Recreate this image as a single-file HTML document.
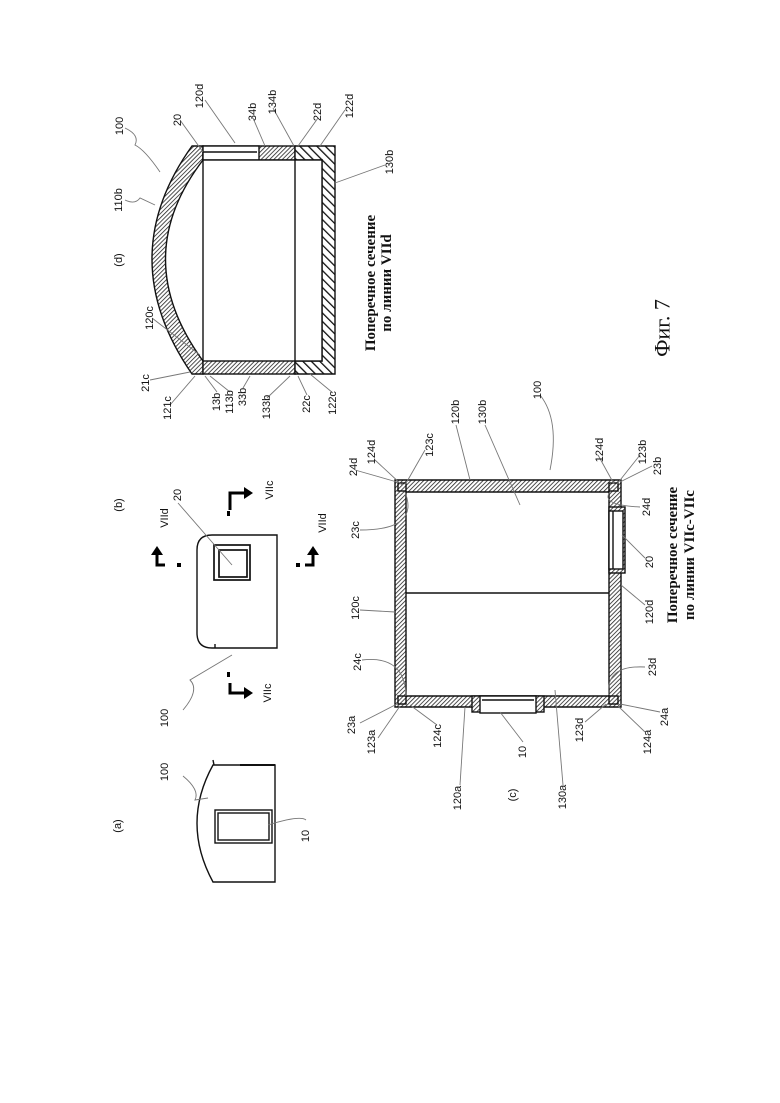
<!DOCTYPE html>
<html><head><meta charset="utf-8"><style>
html,body{margin:0;padding:0;background:#fff}
svg{display:block}
text{font-family:"Liberation Sans",sans-serif;font-size:11px;fill:#111}
.s{font-family:"Liberation Serif",serif;font-weight:bold;font-size:15px}
</style></head><body>
<svg width="780" height="1103" viewBox="0 0 780 1103" xmlns="http://www.w3.org/2000/svg">
<defs>
<pattern id="h" width="3" height="3" patternUnits="userSpaceOnUse" patternTransform="rotate(45)">
<rect width="3" height="3" fill="#fff"/><line x1="0" y1="0" x2="0" y2="3" stroke="#222" stroke-width="1.6"/></pattern>
<pattern id="h2" width="6" height="6" patternUnits="userSpaceOnUse" patternTransform="rotate(-45)">
<rect width="6" height="6" fill="#fff"/><line x1="0" y1="0" x2="0" y2="6" stroke="#111" stroke-width="2.6"/></pattern>
</defs>
<g stroke="#111" stroke-width="1.4" fill="none">
<!-- (d) -->
<path d="M192,146 Q112,258 192,374 L203,374 L203,361 Q128,258 203,160 L203,146 Z" fill="url(#h)"/>
<rect x="203" y="146" width="92" height="14" fill="url(#h)"/>
<rect x="203" y="360" width="92" height="14" fill="url(#h)"/>
<path d="M295,146 H335 V374 H295 V361 H322 V160 H295 Z" fill="url(#h2)"/>
<rect x="203" y="146" width="56" height="14" fill="#fff"/>
<line x1="203" y1="152" x2="257" y2="152"/>
<rect x="203" y="160" width="119" height="201" fill="#fff"/>
<line x1="295" y1="160" x2="295" y2="361"/>
<!-- (c) -->
<path d="M395,480 H621 V707 H395 Z M406,492 V696 H609 V492 Z" fill="url(#h)" fill-rule="evenodd"/>
<line x1="406" y1="593" x2="609" y2="593"/>
<rect x="472" y="696" width="72" height="16" fill="url(#h)"/>
<rect x="480" y="696" width="56" height="17" fill="#fff"/>
<line x1="482" y1="700" x2="534" y2="700"/>
<rect x="609" y="507" width="16" height="66" fill="url(#h)"/>
<rect x="609" y="511" width="14" height="58" fill="#fff"/>
<line x1="613" y1="511" x2="613" y2="569"/>
<rect x="398" y="483" width="8" height="8"/><rect x="609" y="483" width="9" height="8"/>
<rect x="398" y="696" width="8" height="8"/><rect x="609" y="696" width="9" height="8"/>
<!-- (b) -->
<path d="M277,535 V648 H212 Q197,648 197,633 V550 Q197,535 212,535 Z" fill="#fff"/>
<line x1="215" y1="648" x2="215" y2="644"/>
<rect x="214" y="545" width="36" height="35" stroke-width="1.7"/>
<rect x="219" y="550" width="28" height="27" stroke-width="1.7"/>
<!-- (a) -->
<path d="M213,765 Q181,823 213,882 H275 V765 Z" fill="#fff"/>
<line x1="213" y1="760" x2="214" y2="765"/><line x1="240" y1="765" x2="275" y2="765" stroke-width="2"/>
<rect x="215" y="810" width="57" height="33"/>
<rect x="218" y="813" width="51" height="27"/>
</g>
<!-- arrows (b) -->
<g stroke="#000" stroke-width="3" fill="none">
<path d="M165,565 H157 V553"/><path d="M230,510 V493 H245"/><path d="M230,683 V693 H245"/><path d="M305,565 H313 V553"/>
</g>
<g fill="#000">
<polygon points="151,555 163,555 157,546"/><polygon points="244,487 244,499 253,493"/>
<polygon points="244,687 244,699 253,693"/><polygon points="307,555 319,555 313,546"/>
<rect x="177" y="563" width="4" height="4"/><rect x="227" y="511" width="3" height="5"/>
<rect x="227" y="672" width="3" height="5"/><rect x="296" y="563" width="4" height="4"/>
</g>
<!-- leaders -->
<g stroke="#777" stroke-width="0.9" fill="none">
<path d="M125,128 Q140,135 135,145 Q145,150 160,172"/>
<path d="M125,200 Q135,205 140,198 L155,205"/>
<path d="M152,318 L200,355"/><path d="M150,380 L190,372"/><path d="M170,405 L195,376"/>
<path d="M217,392 L205,376"/><path d="M230,392 L210,376"/><path d="M243,388 L250,376"/>
<path d="M267,398 L290,376"/><path d="M307,395 L298,376"/><path d="M333,393 L310,374"/>
<path d="M180,120 L203,152"/><path d="M205,100 L235,143"/><path d="M253,118 L265,146"/>
<path d="M273,108 L294,146"/><path d="M318,118 L298,146"/><path d="M345,110 L320,146"/><path d="M385,165 L335,183"/>
<path d="M355,470 L397,482"/><path d="M375,460 L402,485"/><path d="M425,450 L405,485"/>
<path d="M456,425 L470,480"/><path d="M485,425 L520,505"/><path d="M540,395 Q560,420 550,470"/>
<path d="M598,455 L614,484"/><path d="M640,455 L617,484"/><path d="M652,466 L620,482"/><path d="M640,507 Q600,505 610,492"/>
<path d="M645,558 L622,535"/><path d="M645,605 L621,585"/><path d="M645,667 Q605,665 609,695"/>
<path d="M360,530 Q420,530 405,492"/><path d="M360,610 L395,612"/><path d="M362,660 Q405,655 406,696"/>
<path d="M360,723 L397,704"/><path d="M378,738 L400,706"/><path d="M437,725 L410,705"/>
<path d="M460,785 L465,707"/><path d="M523,742 L500,712"/><path d="M563,785 L555,690"/>
<path d="M585,722 L606,704"/><path d="M645,732 L618,706"/><path d="M660,712 L620,704"/>
<path d="M183,710 Q200,690 190,680 L232,655"/><path d="M178,503 L232,565"/>
<path d="M183,776 Q200,790 195,800 L208,798"/><path d="M306,820 Q300,815 268,825"/>
</g>
<!-- labels -->
<g text-anchor="middle" dominant-baseline="central">
<text transform="translate(120,126) rotate(-90)">100</text>
<text transform="translate(119,200) rotate(-90)">110b</text>
<text transform="translate(119,260) rotate(-90)" font-size="12">(d)</text>
<text transform="translate(150,318) rotate(-90)">120c</text>
<text transform="translate(146,383) rotate(-90)">21c</text>
<text transform="translate(168,408) rotate(-90)">121c</text>
<text transform="translate(217,402) rotate(-90)">13b</text>
<text transform="translate(230,402) rotate(-90)">113b</text>
<text transform="translate(243,397) rotate(-90)">33b</text>
<text transform="translate(267,407) rotate(-90)">133b</text>
<text transform="translate(307,404) rotate(-90)">22c</text>
<text transform="translate(333,403) rotate(-90)">122c</text>
<text transform="translate(178,120) rotate(-90)">20</text>
<text transform="translate(200,96) rotate(-90)">120d</text>
<text transform="translate(253,112) rotate(-90)">34b</text>
<text transform="translate(273,102) rotate(-90)">134b</text>
<text transform="translate(318,112) rotate(-90)">22d</text>
<text transform="translate(350,106) rotate(-90)">122d</text>
<text transform="translate(390,162) rotate(-90)">130b</text>
<text class="s" transform="translate(371,283) rotate(-90)">Поперечное сечение</text>
<text class="s" transform="translate(387,283) rotate(-90)">по линии VIId</text>
<text transform="translate(662,328) rotate(-90)" style="font-family:'Liberation Serif',serif;font-size:22px">Фиг. 7</text>

<text transform="translate(119,505) rotate(-90)" font-size="12">(b)</text>
<text transform="translate(165,518) rotate(-90)" font-size="12">VIId</text>
<text transform="translate(178,495) rotate(-90)">20</text>
<text transform="translate(270,490) rotate(-90)" font-size="12">VIIc</text>
<text transform="translate(323,523) rotate(-90)" font-size="12">VIId</text>
<text transform="translate(268,693) rotate(-90)" font-size="12">VIIc</text>
<text transform="translate(165,718) rotate(-90)">100</text>
<text transform="translate(165,772) rotate(-90)">100</text>
<text transform="translate(118,826) rotate(-90)" font-size="12">(a)</text>
<text transform="translate(306,836) rotate(-90)">10</text>

<text transform="translate(354,467) rotate(-90)">24d</text>
<text transform="translate(372,452) rotate(-90)">124d</text>
<text transform="translate(430,445) rotate(-90)">123c</text>
<text transform="translate(456,412) rotate(-90)">120b</text>
<text transform="translate(483,412) rotate(-90)">130b</text>
<text transform="translate(538,390) rotate(-90)">100</text>
<text transform="translate(600,450) rotate(-90)">124d</text>
<text transform="translate(643,452) rotate(-90)">123b</text>
<text transform="translate(658,466) rotate(-90)">23b</text>
<text transform="translate(647,507) rotate(-90)">24d</text>
<text transform="translate(650,562) rotate(-90)">20</text>
<text transform="translate(650,612) rotate(-90)">120d</text>
<text transform="translate(653,667) rotate(-90)">23d</text>
<text class="s" transform="translate(673,555) rotate(-90)">Поперечное сечение</text>
<text class="s" transform="translate(690,555) rotate(-90)">по линии VIIc-VIIc</text>
<text transform="translate(356,530) rotate(-90)">23c</text>
<text transform="translate(356,608) rotate(-90)">120c</text>
<text transform="translate(358,662) rotate(-90)">24c</text>
<text transform="translate(352,725) rotate(-90)">23a</text>
<text transform="translate(372,742) rotate(-90)">123a</text>
<text transform="translate(438,736) rotate(-90)">124c</text>
<text transform="translate(580,730) rotate(-90)">123d</text>
<text transform="translate(648,742) rotate(-90)">124a</text>
<text transform="translate(665,717) rotate(-90)">24a</text>
<text transform="translate(523,752) rotate(-90)">10</text>
<text transform="translate(458,798) rotate(-90)">120a</text>
<text transform="translate(513,795) rotate(-90)" font-size="12">(c)</text>
<text transform="translate(563,797) rotate(-90)">130a</text>
</g>
</svg>
</body></html>
